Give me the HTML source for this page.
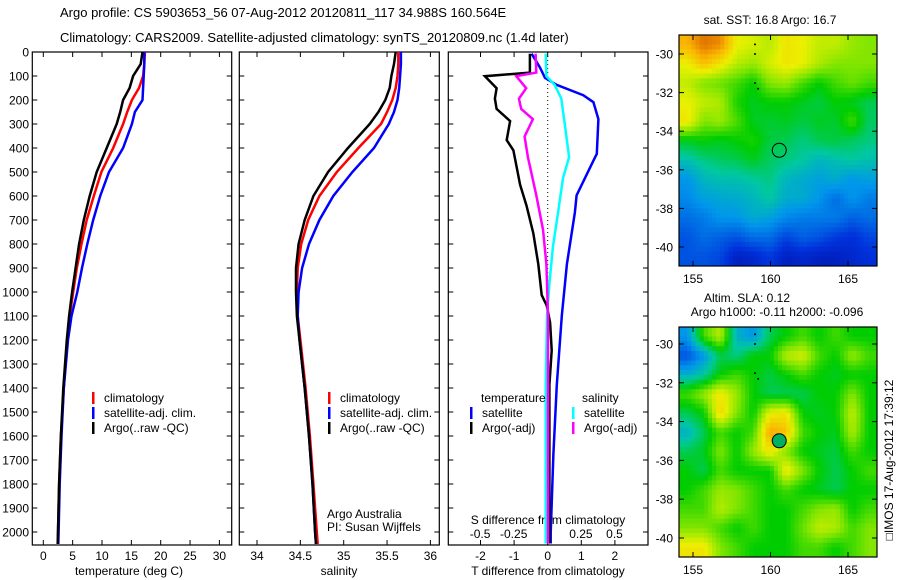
<!DOCTYPE html>
<html><head><meta charset="utf-8"><style>
html,body{margin:0;padding:0;background:#fff;}
svg{display:block;font-family:"Liberation Sans",sans-serif;}
text{fill:#000;}
</style></head><body>
<svg id="fig" width="900" height="580" viewBox="0 0 900 580" xmlns="http://www.w3.org/2000/svg">
<text x="60" y="17" font-size="13">Argo profile: CS 5903653_56 07-Aug-2012 20120811_117 34.988S 160.564E</text>
<text x="60" y="42" font-size="13">Climatology: CARS2009. Satellite-adjusted climatology: synTS_20120809.nc (1.4d later)</text>
<text x="770" y="24" font-size="12" text-anchor="middle">sat. SST: 16.8 Argo: 16.7</text>
<text x="747" y="302" font-size="12" text-anchor="middle">Altim. SLA: 0.12</text>
<text x="777" y="316" font-size="12" text-anchor="middle">Argo h1000: -0.11 h2000: -0.096</text>
<text transform="translate(893,460) rotate(-90)" font-size="12" text-anchor="middle">□IMOS 17-Aug-2012 17:39:12</text>
<g id="layer"></g>
</svg>
<script>
// ---------- data ----------
const depths = [0,50,100,150,200,250,300,400,500,600,700,800,900,1000,1100,1200,1400,1600,1800,2000,2050];
const tempClim = [17.3,17.2,17.0,16.3,15.1,14.3,13.6,11.9,9.9,8.6,7.4,6.5,5.7,5.1,4.5,4.1,3.5,3.0,2.7,2.5,2.45];
const tempSat  = [17.2,17.2,17.1,17.0,16.9,15.6,15.1,13.6,11.2,9.7,8.5,7.5,6.6,5.8,4.8,4.2,3.5,3.1,2.8,2.6,2.55];
const tempArgo = [16.9,16.6,15.3,14.7,13.6,13.1,12.5,10.8,9.1,7.9,6.9,6.1,5.5,4.9,4.4,4.0,3.4,3.0,2.7,2.5,2.45];
const salClim = [35.63,35.63,35.62,35.60,35.56,35.50,35.43,35.17,34.92,34.72,34.59,34.51,34.47,34.46,34.47,34.50,34.56,34.61,34.65,34.69,34.70];
const salSat  = [35.66,35.66,35.65,35.64,35.62,35.58,35.52,35.35,35.10,34.88,34.72,34.60,34.52,34.48,34.47,34.49,34.55,34.60,34.64,34.67,34.68];
const salArgo = [35.60,35.58,35.55,35.53,35.48,35.40,35.30,35.05,34.82,34.65,34.55,34.48,34.45,34.45,34.46,34.49,34.55,34.60,34.64,34.67,34.68];
const dTArgoDepth = [7,86,101,151,194,237,288,367,410,553,640,755,884,1013,1056,1128,1243,1387,2048];
const dTArgo = [-0.53,-0.53,-1.87,-1.52,-1.57,-1.52,-1.12,-1.22,-1.02,-0.82,-0.63,-0.43,-0.28,-0.18,-0.03,0.07,0.12,0.05,0.05];
const dTSatDepth = [7,65,108,137,180,209,280,424,453,597,668,884,1099,1387,1674,2005,2048];
const dTSat = [-0.48,-0.23,-0.08,0.27,1.06,1.36,1.51,1.46,1.36,0.86,0.81,0.57,0.42,0.27,0.17,0.09,0.09];
const dSSatDepth = [7,101,137,194,295,438,525,668,812,956,1099,1387,2048];
const dSSat = [-0.012,-0.007,0.055,0.104,0.129,0.162,0.117,0.08,0.042,0.017,-0.002,-0.012,-0.012];
const dSArgoDepth = [7,86,101,151,194,237,280,352,438,597,740,884,1099,2048];
const dSArgo = [-0.087,-0.082,-0.231,-0.157,-0.211,-0.194,-0.107,-0.169,-0.144,-0.082,-0.032,-0.007,0.005,0.005];
const depthTicks = [0,100,200,300,400,500,600,700,800,900,1000,1100,1200,1300,1400,1500,1600,1700,1800,1900,2000];
const tempTicks = [0,5,10,15,20,25,30];
const salTicks = [34,34.5,35,35.5,36];
const dTTicks = [-2,-1,0,1,2];
const dSTicks = [-0.5,-0.25,0,0.25,0.5];
const dSTickLabels = ["-0.5","-0.25","0","0.25","0.5"];
const lonTicks = [155,160,165];
const latTicks = [-30,-32,-34,-36,-38,-40];
const sstGrid = [
[0.8,0.88,0.85,0.7,0.68,0.65,0.72,0.7,0.66,0.66,0.62,0.6],
[0.7,0.78,0.72,0.65,0.62,0.68,0.72,0.7,0.64,0.6,0.6,0.6],
[0.66,0.6,0.58,0.55,0.5,0.6,0.62,0.55,0.5,0.55,0.58,0.55],
[0.7,0.66,0.64,0.52,0.48,0.5,0.5,0.48,0.46,0.5,0.48,0.45],
[0.72,0.6,0.62,0.56,0.48,0.47,0.48,0.46,0.48,0.47,0.55,0.44],
[0.48,0.5,0.48,0.5,0.52,0.46,0.45,0.42,0.45,0.46,0.44,0.42],
[0.38,0.42,0.44,0.45,0.48,0.44,0.42,0.4,0.36,0.38,0.4,0.38],
[0.3,0.36,0.38,0.38,0.4,0.42,0.36,0.34,0.32,0.34,0.3,0.32],
[0.28,0.32,0.33,0.34,0.36,0.4,0.34,0.34,0.3,0.24,0.3,0.26],
[0.24,0.26,0.3,0.3,0.34,0.32,0.28,0.26,0.26,0.26,0.22,0.24],
[0.2,0.24,0.22,0.2,0.24,0.24,0.18,0.22,0.2,0.16,0.14,0.18],
[0.2,0.2,0.18,0.1,0.12,0.16,0.1,0.12,0.1,0.1,0.12,0.14]];
const slaGrid = [
[0.3,0.55,0.65,0.35,0.3,0.45,0.5,0.55,0.5,0.55,0.5,0.5],
[0.2,0.3,0.45,0.42,0.5,0.5,0.65,0.68,0.55,0.5,0.62,0.55],
[0.35,0.4,0.5,0.55,0.5,0.46,0.5,0.55,0.5,0.48,0.5,0.5],
[0.55,0.62,0.72,0.62,0.5,0.45,0.45,0.45,0.5,0.5,0.6,0.5],
[0.45,0.5,0.75,0.6,0.5,0.7,0.72,0.5,0.48,0.5,0.66,0.5],
[0.35,0.45,0.55,0.5,0.55,0.82,0.78,0.55,0.5,0.48,0.64,0.5],
[0.45,0.48,0.6,0.5,0.62,0.72,0.6,0.5,0.48,0.46,0.55,0.5],
[0.5,0.45,0.55,0.5,0.5,0.5,0.72,0.6,0.5,0.45,0.5,0.55],
[0.5,0.55,0.62,0.6,0.55,0.5,0.55,0.5,0.48,0.45,0.5,0.5],
[0.55,0.55,0.65,0.6,0.55,0.5,0.5,0.55,0.6,0.62,0.5,0.55],
[0.6,0.6,0.55,0.5,0.55,0.5,0.5,0.58,0.66,0.64,0.55,0.6],
[0.72,0.72,0.6,0.55,0.5,0.5,0.5,0.55,0.55,0.5,0.55,0.6]];
const floatLon = 160.564, floatLat = -34.988;

// ---------- helpers ----------
const NS="http://www.w3.org/2000/svg";
const layer=document.getElementById('layer');
function mk(tag,attrs,parent){const e=document.createElementNS(NS,tag);for(const k in attrs)e.setAttribute(k,attrs[k]);(parent||layer).appendChild(e);return e;}
const yD = d => 52 + d*0.24;
const xT = v => 43.3 + v*5.87;
const xS = v => 257 + (v-34)*86.7;
const xDT = v => 547.7 + v*33.6;
const xDS = v => 547.3 + v*134.4;
const PT=52, PB=545;

function panel(name,x0,x1){
  const g=mk('g',{});
  
  
  const r=mk('rect',{x:x0,y:PT,width:x1-x0,height:PB-PT,fill:'#fff',stroke:'#000','stroke-width':1.2},g);
  
  
  depthTicks.forEach(d=>{
    const y=yD(d);
    mk('line',{x1:x0,x2:x0+5,y1:y,y2:y,stroke:'#000'},g);
    mk('line',{x1:x1-5,x2:x1,y1:y,y2:y,stroke:'#000'},g);
  });
  return g;
}
function xticks(g,ticks,fx,labels,ly){
  ticks.forEach((t,i)=>{
    const x=fx(t);
    mk('line',{x1:x,x2:x,y1:PB-5,y2:PB,stroke:'#000'},g);
    mk('line',{x1:x,x2:x,y1:PT,y2:PT+5,stroke:'#000'},g);
    const tx=mk('text',{x:x,y:ly,'font-size':12,'text-anchor':'middle'},g);
    tx.textContent=labels?labels[i]:String(t);
    
    
  });
}
function series(g,vals,deps,fx,color,name){
  const pts=vals.map((v,i)=>fx(v).toFixed(1)+','+yD(deps[i]).toFixed(1)).join(' ');
  const p=mk('polyline',{points:pts,fill:'none',stroke:color,'stroke-width':2.5,'stroke-linejoin':'miter'},g);
  
  
}
function legend(g,x,y,color,label){
  mk('rect',{x:x,y:y-10,width:2.5,height:12,fill:color},g);
  const t=mk('text',{x:x+12,y:y,'font-size':12},g);
  t.textContent=label;
  
  
}
function text(g,x,y,s,anchor,name){
  const t=mk('text',{x:x,y:y,'font-size':12,'text-anchor':anchor||'start'},g);
  t.textContent=s;
  
  
  return t;
}

depthTicks.forEach(d=>{
  const t=mk('text',{x:29,y:yD(d)+4.5,'font-size':12,'text-anchor':'end'});
  t.textContent=String(d);
  
  
});

const g1=panel('temperature-panel',32.3,231.7);
xticks(g1,tempTicks,xT,null,560);
text(g1,129,575,'temperature (deg C)','middle','x-axis-title-temperature');
series(g1,tempClim,depths,xT,'#ff0000','temp-climatology-line');
series(g1,tempSat,depths,xT,'#0000ff','temp-satellite-line');
series(g1,tempArgo,depths,xT,'#000000','temp-argo-line');
legend(g1,92,402,'#ff0000','climatology');
legend(g1,92,417,'#0000ff','satellite-adj. clim.');
legend(g1,92,432,'#000000','Argo(..raw -QC)');

const g2=panel('salinity-panel',239.3,439.3);
xticks(g2,salTicks,xS,["34","34.5","35","35.5","36"],560);
text(g2,339,575,'salinity','middle','x-axis-title-salinity');
series(g2,salClim,depths,xS,'#ff0000','sal-climatology-line');
series(g2,salSat,depths,xS,'#0000ff','sal-satellite-line');
series(g2,salArgo,depths,xS,'#000000','sal-argo-line');
legend(g2,328,402,'#ff0000','climatology');
legend(g2,328,417,'#0000ff','satellite-adj. clim.');
legend(g2,328,432,'#000000','Argo(..raw -QC)');
text(g2,327,518,'Argo Australia','start','credit-line-1');
text(g2,327,531,'PI: Susan Wijffels','start','credit-line-2');

const g3=panel('difference-panel',448.3,648);
xticks(g3,dTTicks,xDT,null,560);
text(g3,548,575,'T difference from climatology','middle','x-axis-title-t-diff');
dSTicks.forEach((t,i)=>{ text(g3,xDS(t),538,dSTickLabels[i],'middle','s-tick-label'); });
text(g3,548,524,'S difference from climatology','middle','s-axis-title');
mk('line',{x1:xDT(0),x2:xDT(0),y1:PT,y2:PB,stroke:'#000','stroke-width':1,'stroke-dasharray':'1,3'},g3);
series(g3,dTSat,dTSatDepth,xDT,'#0000ff','t-diff-satellite-line');
series(g3,dTArgo,dTArgoDepth,xDT,'#000000','t-diff-argo-line');
series(g3,dSSat,dSSatDepth,xDS,'#00ffff','s-diff-satellite-line');
series(g3,dSArgo,dSArgoDepth,xDS,'#ff00ff','s-diff-argo-line');
text(g3,481,402,'temperature','start','legend-heading-temperature');
text(g3,582,402,'salinity','start','legend-heading-salinity');
legend(g3,470,417,'#0000ff','satellite');
legend(g3,470,432,'#000000','Argo(-adj)');
legend(g3,572,417,'#00ffff','satellite');
legend(g3,572,432,'#ff00ff','Argo(-adj)');

// ---------- maps ----------
const cstops=[[0,[0,0,140]],[0.15,[0,50,220]],[0.3,[0,150,235]],[0.4,[0,200,160]],[0.5,[0,205,0]],[0.6,[130,230,0]],[0.7,[235,240,0]],[0.8,[250,180,0]],[0.9,[220,100,0]],[1,[170,30,0]]];
function cmap(v){
  v=Math.max(0,Math.min(1,v));
  for(let i=1;i<cstops.length;i++){
    if(v<=cstops[i][0]){
      const a=cstops[i-1],b=cstops[i],f=(v-a[0])/(b[0]-a[0]);
      const c=a[1].map((x,k)=>Math.round(x+(b[1][k]-x)*f));
      return 'rgb('+c.join(',')+')';
    }
  }
  return 'rgb(170,30,0)';
}
function sample(grid,fr,fc){
  const nr=grid.length,nc=grid[0].length;
  fr=Math.max(0,Math.min(nr-1,fr)); fc=Math.max(0,Math.min(nc-1,fc));
  const r0=Math.floor(fr),c0=Math.floor(fc),r1=Math.min(nr-1,r0+1),c1=Math.min(nc-1,c0+1);
  const a=fr-r0,b=fc-c0;
  return grid[r0][c0]*(1-a)*(1-b)+grid[r0][c1]*(1-a)*b+grid[r1][c0]*a*(1-b)+grid[r1][c1]*a*b;
}
function map(name,grid,top,bottom,lat30y,lat40y,filledMarker,sub){
  const g=mk('g',{});
  
  
  const L=679,R=877;
  const xLon=lon=>770.5+(lon-160)*15.5;
  const yLat=lat=>lat30y+(-30-lat)*(lat40y-lat30y)/10;
  const nr=grid.length*sub,nc=grid[0].length*sub;
  const cw=(R-L)/nc, ch=(bottom-top)/nr;
  for(let r=0;r<nr;r++)for(let c=0;c<nc;c++){
    const v=sample(grid,(r+0.5)/sub-0.5,(c+0.5)/sub-0.5);
    const cell=mk('rect',{x:(L+c*cw).toFixed(2),y:(top+r*ch).toFixed(2),width:(cw+0.5).toFixed(2),height:(ch+0.5).toFixed(2),fill:cmap(v)},g);
    
    
  }
  [[159,-29.5],[159,-30],[159,-31.5],[159.2,-31.8]].forEach(p=>mk('circle',{cx:xLon(p[0]),cy:yLat(p[1]),r:1,fill:'#000'},g));
  const fm=mk('circle',{cx:xLon(floatLon),cy:yLat(floatLat),r:7,fill:filledMarker?'#00b060':'none',stroke:'#000','stroke-width':1},g);
  
  
  mk('rect',{x:L,y:top,width:R-L,height:bottom-top,fill:'none',stroke:'#000','stroke-width':1.2},g);
  lonTicks.forEach(t=>{
    const x=xLon(t);
    mk('line',{x1:x,x2:x,y1:bottom-5,y2:bottom,stroke:'#000'},g);
    mk('line',{x1:x,x2:x,y1:top,y2:top+5,stroke:'#000'},g);
    const tx=mk('text',{x:x,y:bottom+17,'font-size':12,'text-anchor':'middle'},g);
    tx.textContent=String(t);
    
    
  });
  latTicks.forEach(t=>{
    const y=yLat(t);
    mk('line',{x1:L,x2:L+5,y1:y,y2:y,stroke:'#000'},g);
    mk('line',{x1:R-5,x2:R,y1:y,y2:y,stroke:'#000'},g);
    const tx=mk('text',{x:673,y:y+4.5,'font-size':12,'text-anchor':'end'},g);
    tx.textContent=String(t);
    
    
  });
}
map('sst-map',sstGrid,35,266,54,247,false,4);
map('sla-map',slaGrid,327,557,344,538,true,4);
</script>
</body></html>
